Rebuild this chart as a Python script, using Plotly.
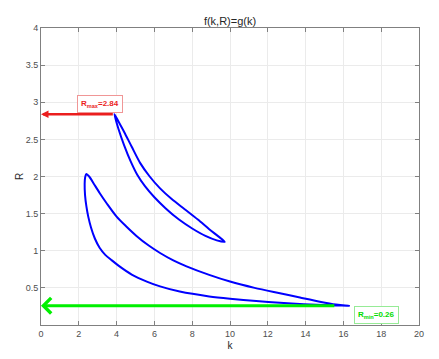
import plotly.graph_objects as go

# upper closed loop of f(k,R)=g(k): lower edge apex -> tip, then upper edge tip -> apex
upper_k = [3.88, 4.1, 4.4, 4.75, 5.1, 5.5, 6.0, 6.6, 7.3, 8.0, 8.7, 9.3, 9.72,
           9.4, 8.9, 8.3, 7.6, 6.9, 6.3, 5.75, 5.25, 4.8, 4.4, 4.1, 3.88]
upper_R = [2.84, 2.64, 2.42, 2.20, 2.02, 1.87, 1.72, 1.57, 1.42, 1.30, 1.20, 1.14, 1.12,
           1.19, 1.29, 1.42, 1.56, 1.70, 1.84, 2.00, 2.18, 2.40, 2.60, 2.74, 2.84]

# lower closed loop: upper edge tip -> apex, then lower edge apex -> tip
lower_k = [16.3, 16.1, 15.6, 14.75, 13.7, 12.64, 11.3, 10.0, 8.9, 7.7, 7.0, 6.3, 5.7, 5.05,
           4.5, 4.0, 3.5, 3.11, 2.8, 2.55, 2.40,
           2.33, 2.31, 2.33, 2.4, 2.5, 2.65, 2.85, 3.1, 3.4, 3.75, 4.1, 4.8, 5.6, 6.3, 7.34,
           8.9, 10.0, 12.64, 15.28, 16.3]
lower_R = [0.26, 0.262, 0.275, 0.314, 0.37, 0.427, 0.50, 0.585, 0.675, 0.79, 0.87, 0.97, 1.07, 1.20,
           1.33, 1.46, 1.63, 1.775, 1.90, 2.00, 2.035,
           1.98, 1.90, 1.75, 1.60, 1.46, 1.31, 1.165, 1.04, 0.945, 0.87, 0.80, 0.68, 0.585, 0.52, 0.45,
           0.385, 0.355, 0.30, 0.266, 0.26]

r_max, k_at_rmax = 2.84, 3.88
r_min, k_at_rmin = 0.26, 15.6

x_ticks = list(range(0, 21, 2))
y_ticks = [0.5, 1, 1.5, 2, 2.5, 3, 3.5, 4]

RED = "rgb(235,30,30)"
GREEN = "rgb(0,240,0)"

fig = go.Figure()

for ks, rs in [(upper_k, upper_R), (lower_k, lower_R)]:
    fig.add_trace(go.Scatter(
        x=ks, y=rs, mode="lines",
        line=dict(color="rgb(0,0,255)", width=2, shape="spline", smoothing=0.8),
        showlegend=False,
    ))

# R max arrow + label
fig.add_annotation(
    x=0, y=r_max, ax=k_at_rmax, ay=r_max, axref="x", ayref="y",
    text="", showarrow=True, arrowhead=2, arrowsize=0.6, arrowwidth=2.5, arrowcolor=RED,
)
fig.add_annotation(
    x=3.1, y=2.97, text="<b>R<sub>max</sub>=%.2f</b>" % r_max, showarrow=False,
    font=dict(size=8, color=RED, family="Liberation Sans, Arial"),
    bordercolor="rgb(240,150,150)", borderwidth=1, borderpad=3, bgcolor="white",
)

# R min arrow + label
fig.add_annotation(
    x=0, y=r_min, ax=k_at_rmin, ay=r_min, axref="x", ayref="y",
    text="", showarrow=True, arrowhead=4, arrowsize=1, arrowwidth=3, arrowcolor=GREEN,
)
fig.add_annotation(
    x=17.75, y=0.14, text="<b>R<sub>min</sub>=%.2f</b>" % r_min, showarrow=False,
    font=dict(size=8, color="rgb(0,220,0)", family="Liberation Sans, Arial"),
    bordercolor="rgb(150,235,150)", borderwidth=1, borderpad=3, bgcolor="white",
)

axis_common = dict(
    showline=True, linecolor="rgb(128,128,128)", linewidth=1, mirror="ticks",
    ticks="inside", ticklen=4, tickcolor="rgb(128,128,128)",
    showgrid=True, gridcolor="rgb(235,235,235)", gridwidth=1,
    zeroline=False, automargin=False, tickfont=dict(size=9, color="rgb(77,77,77)"),
)

# the page body has an 8px margin, so the figure is 8px smaller and shifted
fig.update_layout(
    width=431, height=351,
    margin=dict(l=33, r=20, t=20, b=34),
    paper_bgcolor="white", plot_bgcolor="white",
    font=dict(family="Liberation Sans, Arial", color="rgb(38,38,38)"),
    title=dict(text="f(k,R)=g(k)", x=0.5, xanchor="center", xref="paper",
               y=0.962, yanchor="middle", font=dict(size=11, color="rgb(38,38,38)"),
               automargin=False),
    xaxis=dict(range=[0, 20], tickvals=x_ticks,
               title=dict(text="k", font=dict(size=10, color="rgb(38,38,38)"), standoff=4),
               **axis_common),
    yaxis=dict(range=[0, 4], tickvals=y_ticks,
               title=dict(text="R", font=dict(size=10, color="rgb(38,38,38)"), standoff=0),
               **axis_common),
    showlegend=False,
)

fig.write_html("out.html")
